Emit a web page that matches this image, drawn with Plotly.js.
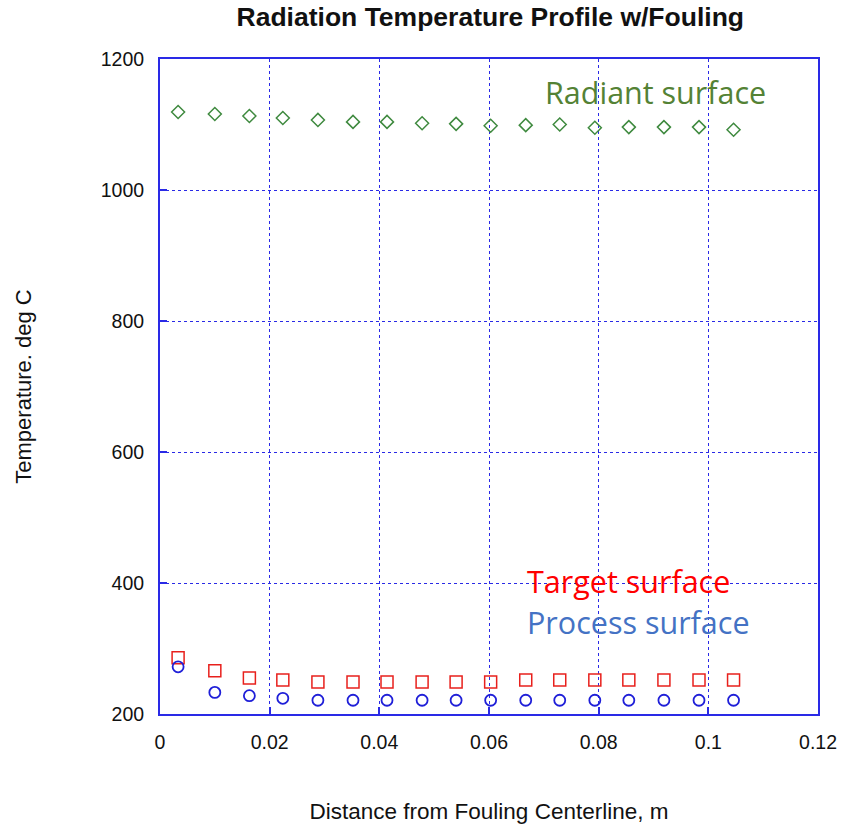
<!DOCTYPE html>
<html><head><meta charset="utf-8">
<script src="https://cdn.plot.ly/plotly-3.0.1.min.js"></script>
<style>html,body{margin:0;padding:0;background:#fff}#c{width:841px;height:828px}</style>
</head><body><div id="c"></div>
<script>
const distance = [0.0033, 0.0100, 0.0163, 0.0224, 0.0288, 0.0352, 0.0414, 0.0478, 0.0540, 0.0603, 0.0667, 0.0729, 0.0793, 0.0855, 0.0919, 0.0983, 0.1046];
const radiant = [1119, 1116, 1113, 1110, 1107, 1104, 1104, 1102, 1101, 1098, 1099, 1100, 1095, 1096, 1096, 1096, 1092];
const target = [286, 266, 255, 252, 249, 249, 249, 249, 249, 249, 252, 252, 252, 252, 252, 252, 252];
const processT = [272, 233, 228, 224, 221, 221, 221, 221, 221, 221, 221, 221, 221, 221, 221, 221, 221];
const labels = ["Radiant surface", "Target surface", "Process surface"];

const blue = '#2a2ae6';
const traces = [
  {x: distance, y: radiant, mode: 'markers', type: 'scatter', name: labels[0],
   marker: {symbol: 'diamond-open', size: 10, color: '#3f8a3f', line: {width: 1.5}}},
  {x: distance, y: target, mode: 'markers', type: 'scatter', name: labels[1],
   marker: {symbol: 'square-open', size: 12, color: '#e8201c', line: {width: 1.5}}},
  {x: distance, y: processT, mode: 'markers', type: 'scatter', name: labels[2],
   marker: {symbol: 'circle-open', size: 11, color: '#1f1fd8', line: {width: 1.8}}}
];
const axisCommon = {
  showline: true, linecolor: blue, linewidth: 2, mirror: true,
  ticks: 'inside', ticklen: 7, tickcolor: blue, tickwidth: 1.5,
  showgrid: true, gridcolor: blue, griddash: 'dot', gridwidth: 1,
  zeroline: false, ticklabelstandoff: 10,
  tickfont: {family: 'Liberation Sans, Arial', size: 19.5, color: '#111'}
};
const layout = {
  width: 841, height: 828,
  margin: {l: 160, r: 23, t: 59, b: 114},
  paper_bgcolor: '#fff', plot_bgcolor: '#fff', showlegend: false,
  title: {text: '<b>Radiation Temperature Profile w/Fouling</b>', x: 0.583, xanchor: 'center', y: 0.9795, yanchor: 'middle',
          font: {family: 'Liberation Sans, Arial', size: 26.5, color: '#111'}},
  xaxis: Object.assign({}, axisCommon, {range: [0, 0.12], dtick: 0.02,
          title: {text: 'Distance from Fouling Centerline, m', standoff: 51, font: {family: 'Liberation Sans, Arial', size: 22.5, color: '#111'}}}),
  yaxis: Object.assign({}, axisCommon, {range: [200, 1200], dtick: 200,
          title: {text: 'Temperature. deg C', standoff: 63, font: {family: 'Liberation Sans, Arial', size: 22, color: '#111'}}}),
  annotations: [
    {x: 0.0904, y: 1150, xref: 'x', yref: 'y', text: labels[0], showarrow: false,
     font: {family: 'Open Sans', size: 30.5, color: '#548235'}},
    {x: 0.0855, y: 403, xref: 'x', yref: 'y', text: labels[1], showarrow: false,
     font: {family: 'Open Sans', size: 30.5, color: '#ff0000'}},
    {x: 0.0872, y: 341, xref: 'x', yref: 'y', text: labels[2], showarrow: false,
     font: {family: 'Open Sans', size: 30.5, color: '#4472c4'}}
  ]
};
Plotly.newPlot('c', traces, layout, {displayModeBar: false});
</script></body></html>
